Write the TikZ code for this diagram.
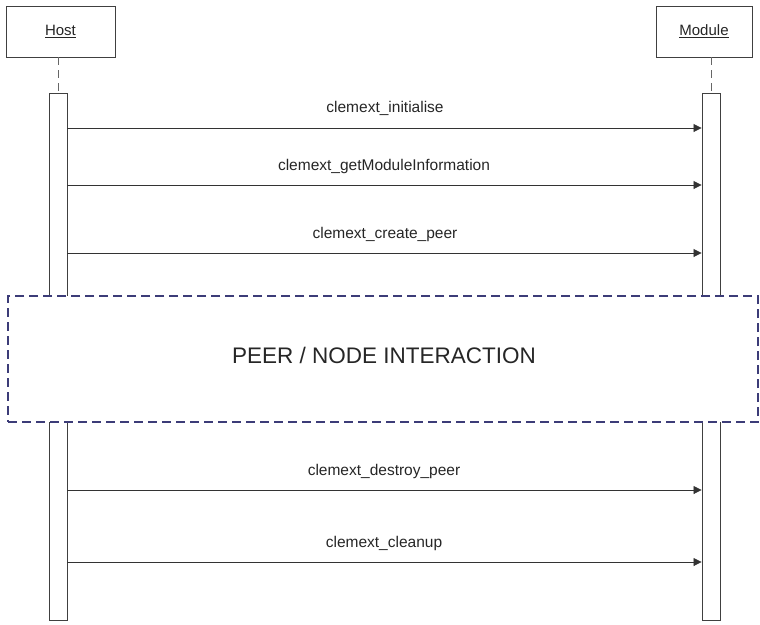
\documentclass[tikz,border=0pt]{standalone}
\usepackage{fontspec}
\setmainfont{Liberation Sans}
\usetikzlibrary{arrows.meta}
\begin{document}
\begin{tikzpicture}[x=1pt,y=-1pt,
  objbox/.style={draw=black!75,line width=0.9pt,fill=white,minimum width=109pt,minimum height=51pt,inner sep=0pt,font=\fontsize{15}{17}\selectfont,text=black!85},
  actbar/.style={draw=black!75,line width=0.9pt,fill=white,minimum width=18pt,inner sep=0pt},
  lifeline/.style={draw=black!60,line width=0.9pt,dash pattern=on 8pt off 5pt},
  msg/.style={draw=black!80,line width=0.8pt,-{Triangle[length=8pt,width=8pt]}},
  msglabel/.style={font=\fontsize{15.5}{18}\selectfont,text=black!85,anchor=base,inner sep=0pt},
  region/.style={draw={rgb,255:red,60;green,60;blue,120},line width=1.1pt,dash pattern=on 9pt off 5pt,fill=white}]
\useasboundingbox (0,0) rectangle (760,624);
% objects
\node[objbox] (host) at (60.5,31.5) {\underline{Host}};
\node[objbox,minimum width=96pt] (module) at (704,31.5) {\underline{Module}};
% activation bars
\node[actbar,minimum height=527pt,anchor=north] (hbar) at (58,93) {};
\node[actbar,minimum height=527pt,anchor=north] (mbar) at (711,93) {};
% lifelines
\draw[lifeline] (hbar.north |- host.south) -- (hbar.north);
\draw[lifeline] (mbar.north |- module.south) -- (mbar.north);
% interaction region
\node[region,minimum width=750pt,minimum height=126pt,inner sep=0pt] (peer) at (383,359) {};
\node[font=\fontsize{22.5}{26}\selectfont,text=black!85] (peertext) at (384,355) {PEER / NODE INTERACTION};
% messages
\coordinate (h1) at (hbar.east |- 0,128);
\coordinate (m1) at (mbar.west |- 0,128);
\draw[msg] (h1) -- (m1);
\node[msglabel] (l1) at (385,112) {clemext\_initialise};
\coordinate (h2) at (hbar.east |- 0,185);
\coordinate (m2) at (mbar.west |- 0,185);
\draw[msg] (h2) -- (m2);
\node[msglabel] (l2) at (384,170) {clemext\_getModuleInformation};
\coordinate (h3) at (hbar.east |- 0,253);
\coordinate (m3) at (mbar.west |- 0,253);
\draw[msg] (h3) -- (m3);
\node[msglabel] (l3) at (385,238) {clemext\_create\_peer};
\coordinate (h4) at (hbar.east |- 0,490);
\coordinate (m4) at (mbar.west |- 0,490);
\draw[msg] (h4) -- (m4);
\node[msglabel] (l4) at (384,475) {clemext\_destroy\_peer};
\coordinate (h5) at (hbar.east |- 0,562);
\coordinate (m5) at (mbar.west |- 0,562);
\draw[msg] (h5) -- (m5);
\node[msglabel] (l5) at (384,547) {clemext\_cleanup};
\end{tikzpicture}
\end{document}
